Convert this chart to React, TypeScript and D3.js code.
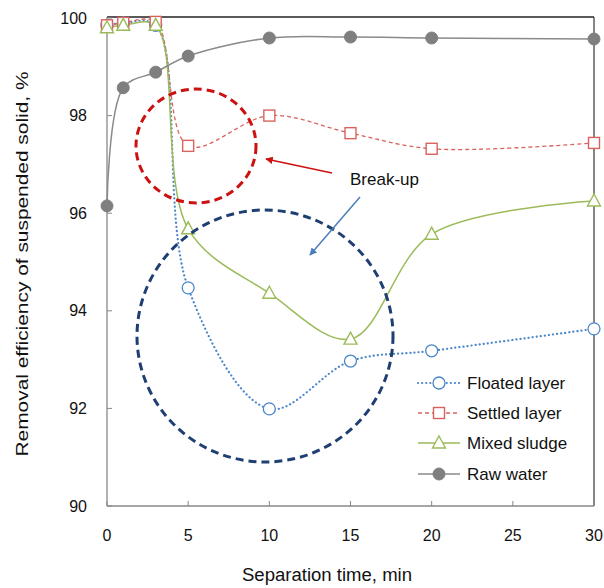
import React from "react";
import * as d3 from "d3";

// Separation time (min)
const times = [0, 1, 3, 5, 10, 15, 20, 30];

// Removal efficiency of suspended solid (%)
const floatedLayer = [99.85, 99.9, 99.85, 94.47, 91.99, 92.97, 93.18, 93.63];
const settledLayer = [99.85, 99.9, 99.92, 97.38, 98.0, 97.64, 97.32, 97.44];
const mixedSludge = [99.8, 99.85, 99.85, 95.68, 94.36, 93.42, 95.57, 96.25];
const rawWater = [96.15, 98.57, 98.89, 99.22, 99.59, 99.61, 99.59, 99.57];

const xTicks = [0, 5, 10, 15, 20, 25, 30];
const yTicks = [90, 92, 94, 96, 98, 100];

const seriesNames = ["Floated layer", "Settled layer", "Mixed sludge", "Raw water"];

const W = 604;
const H = 588;
const left = 107;
const right = 594;
const top = 18;
const bottom = 506;

const FONT = "Liberation Sans, Arial, sans-serif";

type Style = {
  color: string;
  dash: string;
  width: number;
  marker: "circleOpen" | "square" | "triangle" | "circleFilled";
  cap: "round" | "butt";
};

const styles: Style[] = [
  { color: "#4a86c8", dash: "0.1,4", width: 2.2, marker: "circleOpen", cap: "round" },
  { color: "#d9625e", dash: "4,3", width: 1.3, marker: "square", cap: "butt" },
  { color: "#9bbb59", dash: "", width: 1.5, marker: "triangle", cap: "butt" },
  { color: "#8a8a8a", dash: "", width: 1.5, marker: "circleFilled", cap: "butt" },
];

function Marker({ x, y, s }: { x: number; y: number; s: Style }) {
  if (s.marker === "circleOpen")
    return <circle cx={x} cy={y} r={6} fill="#fff" stroke={s.color} strokeWidth={1.3} />;
  if (s.marker === "square")
    return <rect x={x - 5.5} y={y - 5.5} width={11} height={11} fill="#fff" stroke={s.color} strokeWidth={1.4} />;
  if (s.marker === "triangle")
    return (
      <path
        d={`M${x},${y - 7}L${x + 6.5},${y + 5}L${x - 6.5},${y + 5}Z`}
        fill="#fff"
        stroke={s.color}
        strokeWidth={1.4}
      />
    );
  return <circle cx={x} cy={y} r={6} fill="#7f7f7f" stroke="#7f7f7f" strokeWidth={1} />;
}

export default function App() {
  const x = d3.scaleLinear().domain([0, 30]).range([left, right]);
  const y = d3.scaleLinear().domain([90, 100]).range([bottom, top]);

  const allSeries = [floatedLayer, settledLayer, mixedSludge, rawWater];

  const line = d3
    .line<number>()
    .x((_, i) => x(times[i]))
    .y((d) => y(d))
    .curve(d3.curveCatmullRom.alpha(0.5));

  const legendY = [383, 413, 443, 474];

  return (
    <svg width={W} height={H} style={{ position: "absolute", left: 0, top: 0, background: "#fff" }}>
      <defs>
        <marker id="arrRed" viewBox="0 0 10 10" refX="9" refY="5" markerWidth="5" markerHeight="5" orient="auto">
          <path d="M0,0L10,5L0,10Z" fill="#cc1111" />
        </marker>
        <marker id="arrBlue" viewBox="0 0 10 10" refX="9" refY="5" markerWidth="5" markerHeight="5" orient="auto">
          <path d="M0,0L10,5L0,10Z" fill="#4a7ebb" />
        </marker>
      </defs>

      {/* frame */}
      <line x1={left} y1={top - 1} x2={right} y2={top - 1} stroke="#222" strokeWidth={1.5} />
      <line x1={right} y1={top - 1} x2={right} y2={bottom} stroke="#444" strokeWidth={1.3} />
      <line x1={left} y1={top - 1} x2={left} y2={bottom} stroke="#888" strokeWidth={1.3} />
      <line x1={left} y1={bottom} x2={right} y2={bottom} stroke="#888" strokeWidth={1.3} />

      {/* ticks */}
      {yTicks.map((t) => (
        <g key={"y" + t}>
          <line x1={left} x2={left + 5} y1={y(t)} y2={y(t)} stroke="#888" strokeWidth={1} />
          <text x={87} y={y(t)} dy="0.35em" textAnchor="end" fontFamily={FONT} fontSize={16} fill="#111">
            {t}
          </text>
        </g>
      ))}
      {xTicks.map((t) => (
        <g key={"x" + t}>
          <line x1={x(t)} x2={x(t)} y1={bottom} y2={bottom - 5} stroke="#888" strokeWidth={1} />
          <text x={x(t)} y={541} textAnchor="middle" fontFamily={FONT} fontSize={16} fill="#111">
            {t}
          </text>
        </g>
      ))}

      {/* axis titles */}
      <text
        x={327}
        y={581}
        textAnchor="middle"
        fontFamily={FONT}
        fontSize={18}
        fill="#111"
        textLength={170}
        lengthAdjust="spacingAndGlyphs"
      >
        Separation time, min
      </text>
      <text
        transform={`translate(28,${top + 246}) rotate(-90)`}
        textAnchor="middle"
        fontFamily={FONT}
        fontSize={17}
        fill="#111"
        textLength={385}
        lengthAdjust="spacingAndGlyphs"
      >
        Removal efficiency of suspended solid, %
      </text>

      {/* series lines */}
      {allSeries.map((vals, si) => (
        <path
          key={"l" + si}
          d={line(vals) || ""}
          fill="none"
          stroke={styles[si].color}
          strokeWidth={styles[si].width}
          strokeDasharray={styles[si].dash || undefined}
          strokeLinecap={styles[si].cap}
        />
      ))}

      {/* markers */}
      {allSeries.map((vals, si) =>
        vals.map((v, i) => <Marker key={`m${si}-${i}`} x={x(times[i])} y={y(v)} s={styles[si]} />)
      )}

      {/* highlight circles */}
      <ellipse cx={196} cy={146} rx={60} ry={57} fill="none" stroke="#cc1111" strokeWidth={3} strokeDasharray="8,5" />
      <ellipse cx={265} cy={336} rx={128} ry={126} fill="none" stroke="#1f3f73" strokeWidth={3} strokeDasharray="8,5" />

      {/* annotation */}
      <line x1={332} y1={173} x2={266} y2={159} stroke="#cc1111" strokeWidth={1.5} markerEnd="url(#arrRed)" />
      <line x1={360} y1={197} x2={310} y2={255} stroke="#4a7ebb" strokeWidth={1.5} markerEnd="url(#arrBlue)" />
      <text x={350} y={185} fontFamily={FONT} fontSize={17} fill="#111">
        Break-up
      </text>

      {/* legend */}
      {seriesNames.map((name, si) => (
        <g key={"lg" + si}>
          <line
            x1={418}
            x2={460}
            y1={legendY[si]}
            y2={legendY[si]}
            stroke={styles[si].color}
            strokeWidth={styles[si].width}
            strokeDasharray={styles[si].dash || undefined}
            strokeLinecap={styles[si].cap}
          />
          <Marker x={439} y={legendY[si]} s={styles[si]} />
          <text x={467} y={legendY[si]} dy="0.35em" fontFamily={FONT} fontSize={17} fill="#111">
            {name}
          </text>
        </g>
      ))}
    </svg>
  );
}
